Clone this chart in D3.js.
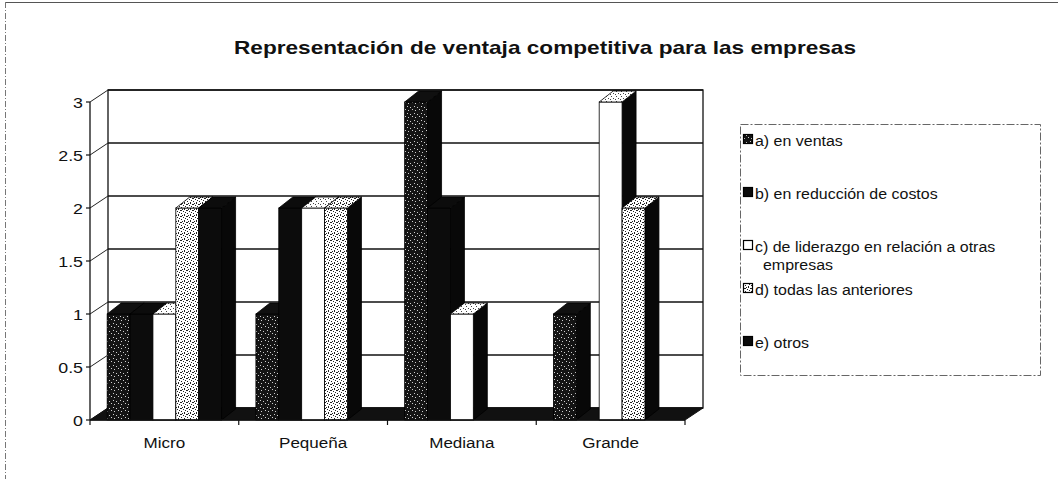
<!DOCTYPE html>
<html>
<head>
<meta charset="utf-8">
<script src="https://cdn.jsdelivr.net/npm/d3@7/dist/d3.min.js"></script>
<style>
  html, body { margin: 0; padding: 0; background: #fff; }
  svg { display: block; font-family: "Liberation Sans", Arial, sans-serif; }
</style>
</head>
<body>
<svg id="chart" width="1058" height="479"></svg>
<script>
// Categories and series values
const categories = ["Micro", "Pequeña", "Mediana", "Grande"];
const seriesNames = [
  "a) en ventas",
  "b) en reducción de costos",
  "c) de liderazgo en relación a otras empresas",
  "d) todas las anteriores",
  "e) otros"
];
const enVentas          = [1, 1, 3, 1];
const reduccionCostos   = [1, 2, 2, 0];
const liderazgo         = [1, 2, 1, 3];
const todasAnteriores   = [2, 2, 0, 2];
const otros             = [2, 0, 0, 0];
const yTicks = [0, 0.5, 1, 1.5, 2, 2.5, 3];
const yTickLabels = ["0", "0.5", "1", "1.5", "2", "2.5", "3"];

const seriesValues = [enVentas, reduccionCostos, liderazgo, todasAnteriores, otros];

const svg = d3.select("#chart");

// text helper with an optional horizontal scale
function wideText(parent, x, y, str, size, anchor, sx) {
  return parent.append("text")
    .attr("transform", `translate(${x},${y}) scale(${sx || 1},1)`)
    .attr("text-anchor", anchor || "start")
    .attr("font-size", size)
    .attr("fill", "#111").text(str);
}

// ---- texture patterns (scanned-print look) ----
const defs = svg.append("defs");
function pattern(id, size, bg, dots, dotColor) {
  const p = defs.append("pattern").attr("id", id)
    .attr("patternUnits", "userSpaceOnUse").attr("width", size).attr("height", size);
  p.append("rect").attr("width", size).attr("height", size).attr("fill", bg);
  dots.forEach(([x, y, w, h]) => p.append("rect")
    .attr("x", x).attr("y", y).attr("width", w || 1).attr("height", h || 1)
    .attr("fill", dotColor).attr("shape-rendering", "crispEdges"));
}
pattern("darkStipple", 7, "#141414", [[1,1],[4,2],[2,5],[6,4]], "#cfcfcf");
pattern("lightStipple", 6, "#ffffff", [[0,0,2,1],[3,1],[1,3],[4,4,1,2],[2,5],[5,2]], "#222");
pattern("lightTop", 5, "#ffffff", [[1,1],[3,3],[0,4]], "#444");

const frontFill = ["url(#darkStipple)", "#0c0c0c", "#ffffff", "url(#lightStipple)", "#0c0c0c"];
const topFill   = ["#101010", "#0c0c0c", "url(#lightTop)", "url(#lightStipple)", "#0c0c0c"];
const sideFill  = "#080808";
const legendFill = ["url(#darkStipple)", "#0c0c0c", "#ffffff", "url(#lightStipple)", "#0c0c0c"];

// ---- outer frame ----
svg.append("line").attr("x1", 5).attr("y1", 2.5).attr("x2", 1058).attr("y2", 2.5)
  .attr("stroke", "#555").attr("stroke-width", 1.2);
svg.append("line").attr("x1", 5.5).attr("y1", 2).attr("x2", 5.5).attr("y2", 479)
  .attr("stroke", "#777").attr("stroke-width", 1).attr("stroke-dasharray", "6,2,1,2");

// ---- title ----
svg.append("text").attr("x", 545).attr("y", 54).attr("text-anchor", "middle")
  .attr("font-size", 19).attr("font-weight", "bold").attr("fill", "#111")
  .attr("textLength", 622).attr("lengthAdjust", "spacingAndGlyphs")
  .text("Representación de ventaja competitiva para las empresas");

// ---- scales ----
const left = 90, right = 685;
const DX = 18, DY = -12;     // wall depth
const BDX = 14, BDY = -11;   // bar depth
const x0 = d3.scaleBand().domain(categories).range([left, right]);
const x1 = d3.scaleBand().domain(d3.range(seriesNames.length))
  .range([0, x0.bandwidth()]).paddingInner(0).paddingOuter(0.75);
const y = d3.scaleLinear().domain([0, 3]).range([420, 102]);

const g = svg.append("g");

// back wall
g.append("rect").attr("x", left + DX).attr("y", y(3) + DY)
  .attr("width", right - left).attr("height", y(0) - y(3))
  .attr("fill", "#fff").attr("stroke", "#111").attr("stroke-width", 1.3);

// gridlines on back wall and side wall
yTicks.forEach(t => {
  g.append("line").attr("x1", left + DX).attr("x2", right + DX)
    .attr("y1", y(t) + DY).attr("y2", y(t) + DY)
    .attr("stroke", "#111").attr("stroke-width", 1.4);
  g.append("line").attr("x1", left).attr("x2", left + DX)
    .attr("y1", y(t)).attr("y2", y(t) + DY)
    .attr("stroke", "#222").attr("stroke-width", 1);
});

// floor
g.append("polygon")
  .attr("points", [[left, y(0)], [right, y(0)], [right + DX, y(0) + DY], [left + DX, y(0) + DY]].map(p => p.join(",")).join(" "))
  .attr("fill", "#111").attr("stroke", "#111");

// bars (left to right so nearer right-hand bars cover side faces)
categories.forEach((cat, ci) => {
  seriesValues.forEach((vals, si) => {
    const v = vals[ci];
    if (!v) return;
    const xa = x0(cat) + x1(si), w = x1.bandwidth();
    const yt = y(v), yb = y(0);
    const bar = g.append("g");
    bar.append("polygon")
      .attr("points", [[xa + w, yt], [xa + w + BDX, yt + BDY], [xa + w + BDX, yb + BDY], [xa + w, yb]].map(p => p.join(",")).join(" "))
      .attr("fill", sideFill).attr("stroke", "#000").attr("stroke-width", 0.8);
    bar.append("rect").attr("x", xa).attr("y", yt).attr("width", w).attr("height", yb - yt)
      .attr("fill", frontFill[si]).attr("stroke", "#000").attr("stroke-width", 0.8);
    bar.append("polygon")
      .attr("points", [[xa, yt], [xa + w, yt], [xa + w + BDX, yt + BDY], [xa + BDX, yt + BDY]].map(p => p.join(",")).join(" "))
      .attr("fill", topFill[si]).attr("stroke", "#000").attr("stroke-width", 0.8);
  });
});

// y axis
g.append("line").attr("x1", left).attr("x2", left).attr("y1", y(3)).attr("y2", y(0))
  .attr("stroke", "#111").attr("stroke-width", 1.3);
yTicks.forEach((t, i) => {
  g.append("line").attr("x1", left - 4).attr("x2", left).attr("y1", y(t)).attr("y2", y(t))
    .attr("stroke", "#111").attr("stroke-width", 1.2);
  wideText(g, left - 7, y(t) + 5.5, yTickLabels[i], 15.5, "end", 1.15);
});

// x axis
g.append("line").attr("x1", left).attr("x2", right).attr("y1", y(0)).attr("y2", y(0))
  .attr("stroke", "#111").attr("stroke-width", 1.4);
d3.range(categories.length + 1).forEach(i => {
  const xx = left + i * x0.step();
  g.append("line").attr("x1", xx).attr("x2", xx).attr("y1", y(0)).attr("y2", y(0) + 5)
    .attr("stroke", "#111").attr("stroke-width", 1.2);
});
categories.forEach(cat => {
  wideText(g, x0(cat) + x0.bandwidth() / 2, 448, cat, 15.5, "middle", 1.1);
});

// ---- legend ----
const lg = svg.append("g");
lg.append("rect").attr("x", 740.5).attr("y", 124.5).attr("width", 300).attr("height", 251)
  .attr("fill", "#fff").attr("stroke", "#666").attr("stroke-width", 1).attr("stroke-dasharray", "8,2,2,2");
const legendRows = [140, 193, 246, 289, 342];
const wrapped = [["a) en ventas"], ["b) en reducción de costos"],
  ["c) de liderazgo en relación a otras", "empresas"], ["d) todas las anteriores"], ["e) otros"]];
seriesNames.forEach((name, i) => {
  const cy = legendRows[i];
  lg.append("rect").attr("x", 743.5).attr("y", cy - 5.5).attr("width", 9).attr("height", 9)
    .attr("fill", legendFill[i]).attr("stroke", "#000").attr("stroke-width", 1.2);
  wrapped[i].forEach((line, k) => {
    wideText(lg, k === 0 ? 755 : 763, cy + 5.5 + k * 18, line, 15.5, "start", 1.03);
  });
});
</script>
</body>
</html>
